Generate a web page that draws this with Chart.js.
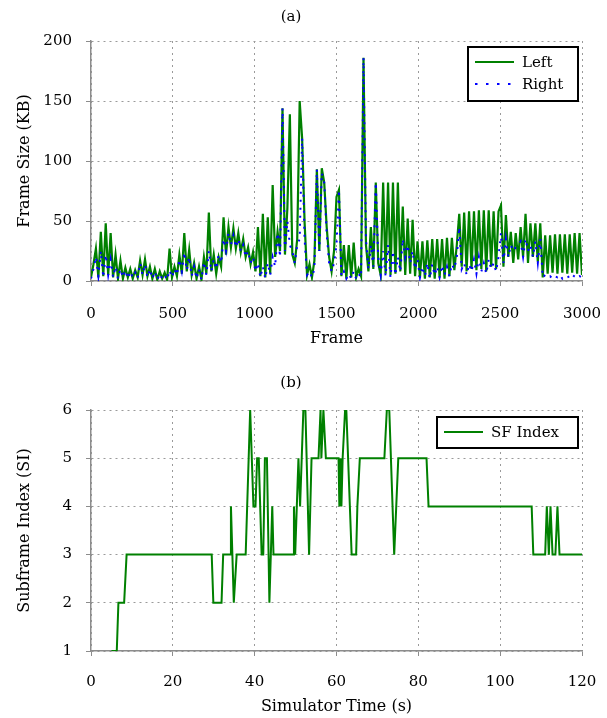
<!DOCTYPE html>
<html>
<head>
<meta charset="utf-8">
<script src="https://cdn.jsdelivr.net/npm/chart.js@4.4.1/dist/chart.umd.min.js"></script>
<style>
  html, body { margin: 0; padding: 0; background: #fff; }
  #wrapA { position: absolute; left: 0; top: 0; width: 607px; height: 360px; }
  #wrapB { position: absolute; left: 0; top: 360px; width: 607px; height: 358px; }
</style>
</head>
<body>
<div id="wrapA"><canvas id="chartA" width="607" height="360"></canvas></div>
<div id="wrapB"><canvas id="chartB" width="607" height="358"></canvas></div>
<script>
// (a) frame sizes, one value every FRAME_STEP frames
const FRAME_STEP = 15;
const leftKB = [
  3, 14, 27, 3, 41, 4, 48, 5, 40, 3,
  22, 2, 17, 2, 11, 3, 10, 2, 9, 3,
  17, 5, 18, 4, 12, 2, 10, 1, 8, 2,
  7, 1, 27, 3, 12, 4, 22, 6, 40, 8,
  26, 5, 15, 2, 12, 1, 20, 6, 57, 8,
  22, 6, 20, 12, 53, 22, 45, 28, 44, 27,
  40, 24, 35, 20, 28, 14, 24, 8, 45, 4,
  56, 3, 53, 6, 80, 20, 41, 25, 144, 22,
  61, 139, 22, 15, 35, 150, 119, 49, 5, 14,
  3, 17, 93, 25, 94, 82, 45, 20, 8, 25,
  70, 76, 4, 30, 2, 30, 3, 32, 3, 10,
  4, 186, 30, 8, 45, 10, 82, 15, 5, 82,
  6, 82, 5, 82, 6, 82, 8, 62, 5, 52,
  6, 51, 4, 33, 3, 33, 2, 34, 3, 35,
  2, 35, 3, 35, 2, 36, 4, 36, 9, 30,
  56, 12, 57, 8, 58, 10, 58, 9, 59, 10,
  59, 8, 59, 12, 58, 10, 58, 63, 12, 55,
  20, 41, 15, 40, 18, 45, 20, 56, 15, 48,
  20, 48, 16, 48, 3, 38, 6, 38, 7, 39,
  6, 39, 7, 39, 6, 39, 7, 40, 6, 40,
  5
];
const rightKB = [
  2, 10, 20, 4, 25, 3, 22, 5, 18, 3,
  12, 2, 10, 3, 9, 2, 8, 3, 7, 2,
  15, 5, 14, 3, 10, 2, 8, 1, 6, 2,
  5, 1, 9, 3, 10, 5, 18, 8, 24, 9,
  20, 4, 12, 2, 10, 1, 16, 5, 25, 8,
  18, 10, 22, 15, 35, 25, 40, 30, 38, 28,
  35, 25, 30, 20, 25, 15, 20, 8, 15, 3,
  12, 2, 15, 5, 20, 12, 40, 20, 144, 25,
  50, 30, 25, 15, 30, 35, 119, 35, 5, 8,
  3, 10, 93, 25, 90, 82, 40, 15, 8, 15,
  30, 76, 4, 8, 2, 6, 2, 8, 2, 6,
  3, 186, 35, 10, 30, 12, 82, 20, 5, 25,
  4, 30, 3, 25, 5, 20, 8, 35, 20, 30,
  15, 25, 10, 18, 3, 12, 4, 15, 2, 14,
  5, 12, 3, 13, 5, 12, 4, 14, 10, 20,
  45, 10, 15, 5, 14, 8, 18, 6, 20, 8,
  15, 6, 18, 10, 15, 8, 20, 40, 15, 35,
  20, 30, 25, 28, 30, 33, 20, 35, 25, 30,
  20, 33, 15, 35, 3, 5, 3, 4, 2, 4,
  3, 5, 2, 4, 3, 4, 2, 5, 3, 4,
  3
];

// (b) subframe index over simulator time
const simTime = [
  5.0, 6.3, 6.7, 8.1, 8.7, 29.5, 29.9, 31.9, 32.3, 34.0,
  34.2, 34.9, 35.6, 37.8, 38.9, 39.7, 40.2, 40.6, 41.0, 41.7,
  42.1, 42.5, 43.0, 43.6, 44.3, 44.6, 49.4, 49.6, 49.9, 50.7,
  51.1, 51.9, 52.4, 53.3, 53.9, 55.6, 56.1, 56.3, 56.8, 57.4,
  60.5, 60.7, 61.0, 61.2, 61.5, 62.1, 62.4, 63.7, 64.8, 65.1,
  65.7, 71.7, 72.3, 72.9, 74.1, 75.1, 82.0, 82.5, 107.7, 108.1,
  111.0, 111.4, 111.9, 112.3, 112.8, 113.5, 114.0, 114.5, 120.0
];
const sfIndex = [
  1, 1, 2, 2, 3, 3, 2, 2, 3, 3,
  4, 2, 3, 3, 6, 4, 4, 5, 5, 3,
  3, 5, 5, 2, 4, 3, 3, 4, 3, 5,
  4, 6, 6, 3, 5, 5, 6, 5, 6, 5,
  5, 4, 5, 4, 5, 6, 6, 3, 3, 4,
  5, 5, 6, 6, 3, 5, 5, 4, 4, 3,
  3, 4, 3, 4, 3, 3, 4, 3, 3
];

const FONT = "'DejaVu Serif', 'Liberation Serif', serif";
const GRID = "#9a9a9a";
const AXIS = "#8c8c8c";

const boxLegend = {
  id: "boxLegend",
  afterDatasetsDraw(chart, args, opts) {
    if (!opts || !opts.items) return;
    const ctx = chart.ctx;
    ctx.save();
    ctx.fillStyle = "#fff";
    ctx.fillRect(opts.x, opts.y, opts.w, opts.h);
    ctx.lineWidth = 2;
    ctx.strokeStyle = "#000";
    ctx.strokeRect(opts.x, opts.y, opts.w, opts.h);
    opts.items.forEach((idx, i) => {
      const ds = chart.data.datasets[idx];
      const y = opts.y + opts.rowTop + i * opts.rowGap;
      ctx.beginPath();
      ctx.setLineDash(ds.legendDash || []);
      ctx.lineWidth = ds.borderWidth;
      ctx.strokeStyle = ds.borderColor;
      ctx.moveTo(opts.x + 7, y);
      ctx.lineTo(opts.x + 46, y);
      ctx.stroke();
      ctx.setLineDash([]);
      ctx.fillStyle = "#000";
      ctx.font = "15px " + FONT;
      ctx.textBaseline = "middle";
      ctx.fillText(ds.label, opts.x + 54, y + 1);
    });
    ctx.restore();
  }
};

const axisX = (min, max, step, label, height, tickPad, titlePad) => ({
  type: "linear",
  min, max,
  ticks: { stepSize: step, color: "#000", padding: tickPad, font: { family: FONT, size: 15 }, callback: v => String(v) },
  grid: { color: GRID, tickColor: AXIS, tickLength: 5 },
  border: { color: AXIS, width: 1.5, dash: [2, 4] },
  title: { display: true, text: label, color: "#000", font: { family: FONT, size: 16 }, padding: { top: 0, bottom: titlePad } },
  afterFit(scale) {
    scale.height = height;
    scale.paddingLeft = 0;
    scale.paddingRight = 0;
  }
});

const axisY = (min, max, step, label) => ({
  min, max,
  ticks: { stepSize: step, color: "#000", padding: 14, font: { family: FONT, size: 15 }, callback: v => String(v) },
  grid: { color: GRID, tickColor: AXIS, tickLength: 5 },
  border: { color: AXIS, width: 1.5, dash: [2, 4] },
  title: { display: true, text: label, color: "#000", font: { family: FONT, size: 16 }, padding: { top: 15, bottom: 0 } },
  afterFit(scale) { scale.width = 91; }
});

const titleOpts = (text, top, bottom) => ({
  display: true, text, color: "#000",
  font: { family: FONT, size: 15, weight: "normal" },
  padding: { top, bottom }
});

new Chart(document.getElementById("chartA").getContext("2d"), {
  type: "line",
  data: {
    datasets: [
      {
        label: "Left",
        data: leftKB.map((v, i) => ({ x: i * FRAME_STEP, y: v })),
        borderColor: "#008000",
        borderWidth: 2.2,
        pointRadius: 0,
        order: 1
      },
      {
        label: "Right",
        data: rightKB.map((v, i) => ({ x: i * FRAME_STEP, y: v })),
        borderColor: "#0000ff",
        borderWidth: 2,
        borderDash: [2, 6],
        legendDash: [2.5, 8.5],
        pointRadius: 0,
        order: 0
      }
    ]
  },
  options: {
    responsive: false,
    animation: false,
    layout: { padding: { left: 0, right: 25, top: 0, bottom: 0 } },
    plugins: {
      legend: { display: false },
      tooltip: { enabled: false },
      title: titleOpts("(a)", 8, 15),
      boxLegend: { x: 468, y: 47, w: 110, h: 54, rowTop: 15, rowGap: 22, items: [0, 1] }
    },
    scales: {
      x: axisX(0, 3000, 500, "Frame", 79, 19, 12),
      y: axisY(0, 200, 50, "Frame Size (KB)")
    }
  },
  plugins: [boxLegend]
});

new Chart(document.getElementById("chartB").getContext("2d"), {
  type: "line",
  data: {
    datasets: [
      {
        label: "SF Index",
        data: simTime.map((t, i) => ({ x: t, y: sfIndex[i] })),
        borderColor: "#008000",
        borderWidth: 2,
        pointRadius: 0
      }
    ]
  },
  options: {
    responsive: false,
    animation: false,
    layout: { padding: { left: 0, right: 25, top: 0, bottom: 0 } },
    plugins: {
      legend: { display: false },
      tooltip: { enabled: false },
      title: titleOpts("(b)", 14, 18),
      boxLegend: { x: 437, y: 57, w: 141, h: 31, rowTop: 15, rowGap: 22, items: [0] }
    },
    scales: {
      x: axisX(0, 120, 20, "Simulator Time (s)", 67, 17, 2),
      y: axisY(1, 6, 1, "Subframe Index (SI)")
    }
  },
  plugins: [boxLegend]
});
</script>
</body>
</html>
